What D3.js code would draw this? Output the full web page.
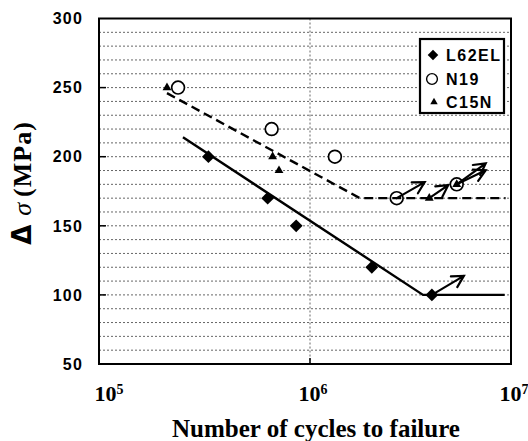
<!DOCTYPE html>
<html>
<head>
<meta charset="utf-8">
<script src="https://cdn.jsdelivr.net/npm/d3@7"></script>
<style>
body { margin: 0; background: #fff; }
.grid { stroke: #666; stroke-width: 1; stroke-dasharray: 2,2; }
.fit { fill: none; stroke: #000; stroke-width: 2.4; }
.arrow { fill: none; stroke: #000; stroke-width: 2.2; stroke-linecap: round; stroke-linejoin: miter; }
.ylab { font: bold 16px "Liberation Sans", Arial, sans-serif; letter-spacing: 1.2px; }
.xlab { font: bold 22px "Liberation Serif", "Times New Roman", serif; }
.legtxt { font: bold 16px "Liberation Sans", Arial, sans-serif; letter-spacing: 1.5px; }
</style>
</head>
<body>
<script>
// ---- data ----
var series = ["L62EL", "N19", "C15N"];

var l62elN = [3.3e5, 6.3e5, 8.6e5, 2.03e6, 4.04e6];
var l62elS = [200, 170, 150, 120, 100];

var n19N = [2.37e5, 6.58e5, 1.33e6, 2.7e6, 5.37e6];
var n19S = [250, 220, 200, 170, 180];

var c15nN = [2.1e5, 6.65e5, 7.13e5, 3.92e6, 5.37e6];
var c15nS = [250, 200, 190, 170, 180];

// run-outs (no failure), drawn with arrows
var runoutSeries = ["L62EL", "N19", "C15N", "N19", "C15N"];
var runoutN = [4.04e6, 2.7e6, 3.92e6, 5.37e6, 5.37e6];
var runoutS = [100, 170, 170, 180, 180];

// S-N fit lines
var fitSolidN = [2.5e5, 3.65e6, 9.3e6];
var fitSolidS = [214, 100, 100];
var fitDashN = [2.1e5, 1.77e6, 9.4e6];
var fitDashS = [246, 170, 170];

var yTicks = [50, 100, 150, 200, 250, 300];
var xTicks = [1e5, 1e6, 1e7];
var xTickExp = ["5", "6", "7"];

// ---- drawing ----
var W = 528, H = 441;
var svg = d3.select("body").append("svg").attr("width", W).attr("height", H);

// the scanned axis is a little short in the second decade, so map it piecewise
var x = d3.scaleLog().domain([1e5, 1e6, 1e7]).range([99, 310, 511]);
var y = d3.scaleLinear().domain([50, 300]).range([364, 18.5]);
var x0 = x(1e5), x1 = x(1e7);

// horizontal dotted grid every 10 MPa
svg.selectAll(".hgrid")
    .data(d3.range(60, 300, 10))
    .enter().append("line")
    .attr("class", "grid")
    .attr("x1", x0).attr("x2", x1)
    .attr("y1", d => y(d)).attr("y2", d => y(d));

// vertical grid at 10^6
svg.append("line")
    .attr("class", "grid")
    .attr("x1", x(1e6)).attr("x2", x(1e6))
    .attr("y1", y(300)).attr("y2", y(50));

// inner major ticks
svg.selectAll(".ytick")
    .data(yTicks.slice(1, -1))
    .enter().append("line")
    .attr("stroke", "#000").attr("stroke-width", 1.5)
    .attr("x1", x0).attr("x2", x0 + 7)
    .attr("y1", d => y(d)).attr("y2", d => y(d));
svg.append("line")
    .attr("stroke", "#000").attr("stroke-width", 1.5)
    .attr("x1", x(1e6)).attr("x2", x(1e6))
    .attr("y1", y(50)).attr("y2", y(50) - 6);

// frame
svg.append("rect")
    .attr("x", x0).attr("y", y(300))
    .attr("width", x1 - x0)
    .attr("height", y(50) - y(300))
    .attr("fill", "none").attr("stroke", "#000").attr("stroke-width", 2);

// y tick labels
svg.selectAll(".ylab")
    .data(yTicks)
    .enter().append("text")
    .attr("class", "ylab")
    .attr("x", 83)
    .attr("y", d => y(d))
    .attr("dy", "0.36em")
    .attr("text-anchor", "end")
    .text(d => d);

// x tick labels: 10^n
var xOff = [10, 3, 3];
var xl = svg.selectAll(".xlab")
    .data(xTicks)
    .enter().append("text")
    .attr("class", "xlab")
    .attr("x", (d, i) => x(d) + xOff[i])
    .attr("y", 401)
    .attr("text-anchor", "middle");
xl.append("tspan").text("10");
xl.append("tspan")
    .attr("font-size", "14px")
    .attr("dy", -7)
    .text((d, i) => xTickExp[i]);

// axis titles
svg.append("text")
    .attr("x", 316).attr("y", 437)
    .attr("text-anchor", "middle")
    .style("font", "bold 25px 'Liberation Serif', 'Times New Roman', serif")
    .text("Number of cycles to failure");

var yt = svg.append("text")
    .attr("transform", "translate(31,183) rotate(-90)")
    .attr("text-anchor", "middle")
    .style("font", "bold 26px 'Liberation Serif', 'Times New Roman', serif")
    .style("letter-spacing", "1px");
yt.append("tspan").style("font-family", "'DejaVu Sans', sans-serif").text("\u0394");
yt.append("tspan").attr("dx", 8).style("font-style", "italic").style("font-weight", "normal").text("\u03c3");
yt.append("tspan").attr("dx", 5).text("(MPa)");

// marker shapes
var diamond = d3.symbol().type(d3.symbolSquare).size(82);
var tri = d3.symbol().type(d3.symbolTriangle).size(34);

function pts(N, S) { return N.map((n, i) => ({n: n, s: S[i]})); }

// circles (N19)
svg.selectAll(".n19")
    .data(pts(n19N, n19S))
    .enter().append("circle")
    .attr("cx", d => x(d.n)).attr("cy", d => y(d.s))
    .attr("r", 6.4)
    .attr("fill", "#fff").attr("stroke", "#000").attr("stroke-width", 1.7);

// fit lines
var line = d3.line().x(d => x(d.n)).y(d => y(d.s));
svg.append("path").attr("class", "fit").attr("d", line(pts(fitSolidN, fitSolidS)));
svg.append("path").attr("class", "fit")
    .attr("stroke-dasharray", "9,5")
    .attr("d", line(pts(fitDashN, fitDashS)));

// diamonds (L62EL)
svg.selectAll(".l62")
    .data(pts(l62elN, l62elS))
    .enter().append("path")
    .attr("d", diamond)
    .attr("transform", d => "translate(" + x(d.n) + "," + y(d.s) + ") rotate(45)")
    .attr("fill", "#000");

// triangles (C15N)
svg.selectAll(".c15")
    .data(pts(c15nN, c15nS))
    .enter().append("path")
    .attr("d", tri)
    .attr("transform", d => "translate(" + x(d.n) + "," + y(d.s) + ")")
    .attr("fill", "#000");

// run-out arrows
var arrowVec = [[32, -19], [28, -16], [19, -13], [29, -21], [29, -14]];
function arrowPath(i) {
    var ax = x(runoutN[i]), ay = y(runoutS[i]);
    var dx = arrowVec[i][0], dy = arrowVec[i][1];
    var bx = ax + dx, by = ay + dy;
    var a = Math.atan2(-dy, -dx), L = 13, spread = 0.5;
    var p = d3.path();
    p.moveTo(ax, ay); p.lineTo(bx, by);
    p.moveTo(bx + L * Math.cos(a + spread), by + L * Math.sin(a + spread));
    p.lineTo(bx, by);
    p.lineTo(bx + L * Math.cos(a - spread), by + L * Math.sin(a - spread));
    return p.toString();
}
svg.selectAll(".arrow")
    .data(runoutN)
    .enter().append("path")
    .attr("class", "arrow")
    .attr("d", (d, i) => arrowPath(i));

// legend
var leg = svg.append("g").attr("transform", "translate(420,39)");
leg.append("rect")
    .attr("width", 84).attr("height", 74)
    .attr("fill", "#fff").attr("stroke", "#000").attr("stroke-width", 2.2);
var rowY = [16, 40, 63];
var row = leg.selectAll(".row")
    .data(series)
    .enter().append("g")
    .attr("transform", (d, i) => "translate(0," + rowY[i] + ")");
row.append("text")
    .attr("class", "legtxt")
    .attr("x", 26).attr("dy", "0.36em")
    .text(d => d);
row.filter((d, i) => i === 0).append("path")
    .attr("d", d3.symbol().type(d3.symbolSquare).size(56))
    .attr("transform", "translate(13,0) rotate(45)")
    .attr("fill", "#000");
row.filter((d, i) => i === 1).append("circle")
    .attr("cx", 12).attr("r", 5.4)
    .attr("fill", "#fff").attr("stroke", "#000").attr("stroke-width", 1.4);
row.filter((d, i) => i === 2).append("path")
    .attr("d", d3.symbol().type(d3.symbolTriangle).size(24))
    .attr("transform", "translate(14,0)")
    .attr("fill", "#000");
</script>
</body>
</html>
